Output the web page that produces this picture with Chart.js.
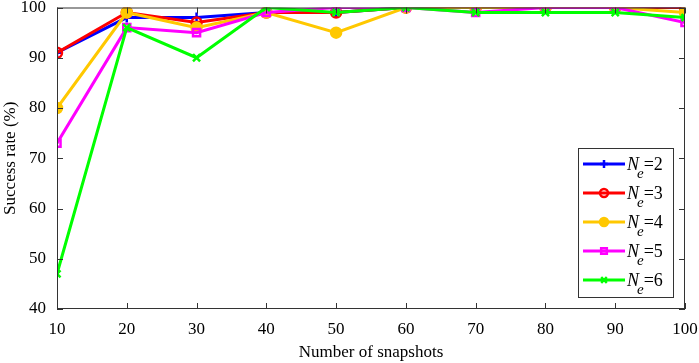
<!DOCTYPE html>
<html>
<head>
<meta charset="utf-8">
<script src="https://cdn.jsdelivr.net/npm/chart.js@4"></script>
<style>
  html, body { margin: 0; padding: 0; background: #fff; }
  #wrap { width: 699px; height: 363px; }
</style>
</head>
<body>
<div id="wrap"><canvas id="chart" width="699" height="363"></canvas></div>
<script>
var snapshots = [10, 20, 30, 40, 50, 60, 70, 80, 90, 100];
var ne2 = [91, 98, 98, 99, 99, 100, 100, 100, 100, 100];
var ne3 = [91, 99, 97, 99, 99, 100, 100, 100, 100, 100];
var ne4 = [80, 99, 96, 99, 95, 100, 100, 100, 100, 99];
var ne5 = [73, 96, 95, 99, 100, 100, 99, 100, 100, 97];
var ne6 = [47, 96, 90, 100, 99, 100, 99, 99, 99, 98];
var seriesNames = ['2', '3', '4', '5', '6'];
var yTicks = [40, 50, 60, 70, 80, 90, 100];

var FONT = '"Liberation Serif", "Times New Roman", serif';

function pts(vals) {
    return vals.map((v, i) => ({ x: snapshots[i], y: v }));
}

var styles = [
    { color: 'rgb(0,0,255)', marker: 'cross', fill: false, r: 5 },
    { color: 'rgb(255,0,0)', marker: 'circle', fill: false, r: 5 },
    { color: 'rgb(255,200,0)', marker: 'circle', fill: true, r: 5 },
    { color: 'rgb(255,0,255)', marker: 'rect', fill: false, r: 5 },
    { color: 'rgb(0,255,0)', marker: 'crossRot', fill: false, r: 5 }
];

var datasets = [ne2, ne3, ne4, ne5, ne6].map((vals, i) => ({
    label: 'N_e=' + seriesNames[i],
    data: pts(vals),
    borderColor: styles[i].color,
    backgroundColor: styles[i].fill ? styles[i].color : 'rgba(255,255,255,0)',
    pointStyle: styles[i].marker,
    pointRadius: styles[i].r,
    pointBorderWidth: 2.5,
    pointBorderColor: styles[i].color,
    pointBackgroundColor: styles[i].fill ? styles[i].color : 'rgba(255,255,255,0)',
    borderWidth: 3,
    order: 5 - i,
    tension: 0
}));

// box, inward ticks and the legend with subscripts
var matlabAxes = {
    id: 'matlabAxes',
    afterDraw(chart) {
        var ctx = chart.ctx, a = chart.chartArea;
        var xs = chart.scales.x, ys = chart.scales.y;
        ctx.save();
        ctx.strokeStyle = '#333';
        ctx.lineWidth = 1;
        ctx.strokeRect(a.left + 0.5, a.top + 0.5, a.right - a.left - 1, a.bottom - a.top - 1);
        ctx.beginPath();
        snapshots.forEach(v => {
            var px = Math.round(xs.getPixelForValue(v)) + 0.5;
            ctx.moveTo(px, a.bottom); ctx.lineTo(px, a.bottom - 6);
            ctx.moveTo(px, a.top); ctx.lineTo(px, a.top + 6);
        });
        yTicks.forEach(v => {
            var py = Math.round(ys.getPixelForValue(v)) + 0.5;
            ctx.moveTo(a.left, py); ctx.lineTo(a.left + 6, py);
            ctx.moveTo(a.right, py); ctx.lineTo(a.right - 6, py);
        });
        ctx.stroke();

        // legend
        var lx = 578, ly = 148, lw = 95, lh = 149;
        ctx.fillStyle = '#fff';
        ctx.fillRect(lx, ly, lw, lh);
        ctx.strokeStyle = '#333';
        ctx.lineWidth = 1;
        ctx.strokeRect(lx + 0.5, ly + 0.5, lw, lh);
        chart.data.datasets.forEach((ds, i) => {
            var cy = ly + 16 + i * 29;
            ctx.strokeStyle = ds.borderColor;
            ctx.lineWidth = 3;
            ctx.beginPath();
            ctx.moveTo(lx + 5, cy); ctx.lineTo(lx + 47, cy);
            ctx.stroke();
            ctx.fillStyle = ds.pointBackgroundColor;
            ctx.strokeStyle = ds.pointBorderColor;
            ctx.lineWidth = 2.5;
            Chart.helpers.drawPoint(ctx, {
                pointStyle: ds.pointStyle, radius: 4, borderWidth: 2.5
            }, lx + 26, cy);
            ctx.fillStyle = '#000';
            ctx.textBaseline = 'alphabetic';
            ctx.textAlign = 'left';
            ctx.font = 'italic 18px ' + FONT;
            var tx = lx + 49;
            ctx.fillText('N', tx, cy + 6);
            var nw = ctx.measureText('N').width;
            ctx.font = 'italic 15px ' + FONT;
            ctx.fillText('e', tx + nw - 2, cy + 14);
            var ew = ctx.measureText('e').width;
            ctx.font = '18px ' + FONT;
            ctx.fillText('=' + seriesNames[i], tx + nw + ew - 2, cy + 6);
        });
        ctx.restore();
    }
};

new Chart(document.getElementById('chart'), {
    type: 'line',
    data: { datasets: datasets },
    plugins: [matlabAxes],
    options: {
        responsive: false,
        animation: false,
        layout: { padding: { top: 7, right: 14, left: 0, bottom: 0 } },
        plugins: { legend: { display: false }, tooltip: { enabled: false } },
        scales: {
            x: {
                type: 'linear',
                min: 10, max: 100,
                afterBuildTicks: s => { s.ticks = snapshots.map(v => ({ value: v })); },
                afterFit: s => { s.height = 54; s.paddingLeft = 0; s.paddingRight = 0; },
                grid: { display: false },
                border: { display: false },
                ticks: { color: '#000', font: { family: FONT, size: 17 }, padding: 2, maxRotation: 0 },
                title: { display: true, text: 'Number of snapshots', color: '#000',
                         font: { family: FONT, size: 17 }, padding: { top: 0, bottom: 0 } }
            },
            y: {
                min: 40, max: 100,
                afterBuildTicks: s => { s.ticks = yTicks.map(v => ({ value: v })); },
                afterFit: s => { s.width = 57; s.paddingTop = 0; s.paddingBottom = 0; },
                grid: { display: false },
                border: { display: false },
                ticks: { color: '#000', font: { family: FONT, size: 17 }, padding: 3 },
                title: { display: true, text: 'Success rate (%)', color: '#000',
                         font: { family: FONT, size: 17 }, padding: { top: 0, bottom: 0 } }
            }
        }
    }
});
</script>
</body>
</html>
